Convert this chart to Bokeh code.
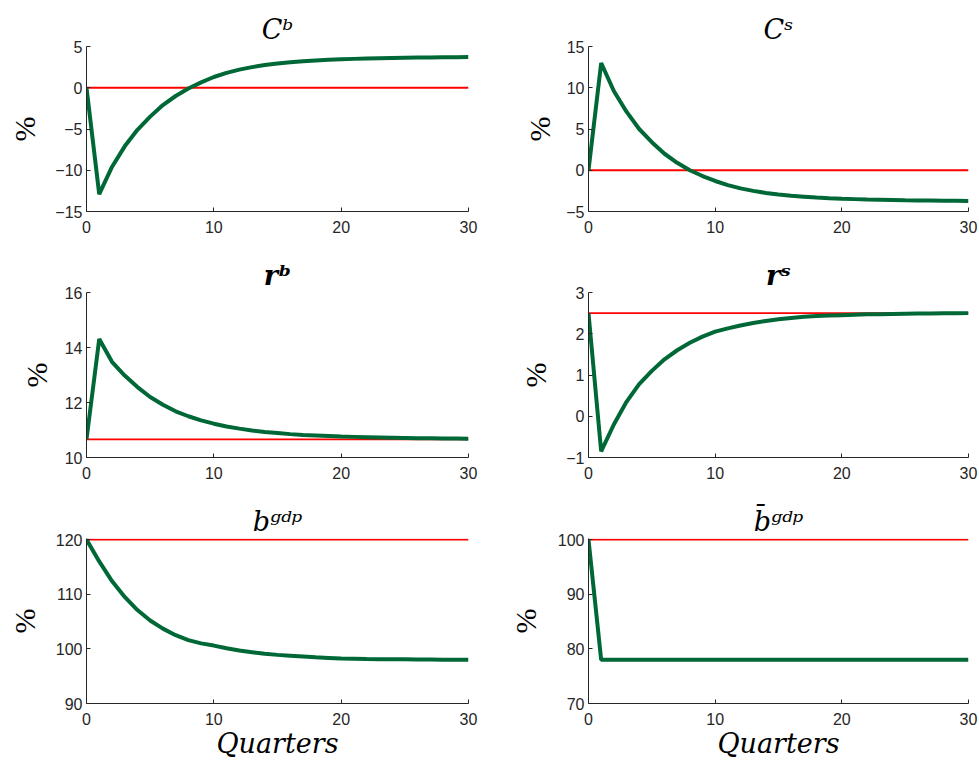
from bokeh.plotting import figure
from bokeh.layouts import column, row
from bokeh.models import FixedTicker, Range1d
from bokeh.embed import file_html
from bokeh.resources import INLINE

# ---------------- data ----------------
quarters = list(range(31))
x_ticks = [0, 10, 20, 30]

Cb = [0, -12.9, -9.6, -7.1, -5.1, -3.5, -2.1, -1.0, -0.1, 0.65, 1.3, 1.8, 2.2, 2.5, 2.75,
      2.95, 3.1, 3.2, 3.3, 3.38, 3.45, 3.5, 3.55, 3.58, 3.61, 3.64, 3.66, 3.68, 3.7, 3.71, 3.72]
Cs = [0, 13.0, 9.6, 7.1, 5.0, 3.4, 2.0, 0.9, 0.0, -0.7, -1.3, -1.8, -2.2, -2.5, -2.75,
      -2.95, -3.1, -3.2, -3.3, -3.38, -3.45, -3.5, -3.55, -3.58, -3.61, -3.64, -3.66, -3.68, -3.7, -3.71, -3.72]
rb = [10.66, 14.31, 13.48, 12.98, 12.56, 12.2, 11.92, 11.68, 11.5, 11.35, 11.23, 11.13, 11.05, 10.98, 10.93,
      10.89, 10.85, 10.82, 10.8, 10.78, 10.76, 10.75, 10.74, 10.73, 10.72, 10.71, 10.7, 10.7, 10.69, 10.69, 10.68]
rs = [2.5, -0.85, -0.2, 0.35, 0.78, 1.1, 1.38, 1.6, 1.78, 1.93, 2.05, 2.13, 2.2, 2.26, 2.31,
      2.35, 2.38, 2.41, 2.43, 2.44, 2.45, 2.46, 2.47, 2.475, 2.48, 2.485, 2.49, 2.49, 2.495, 2.495, 2.5]
bgdp = [120, 116.0, 112.4, 109.5, 107.1, 105.2, 103.7, 102.5, 101.6, 101.0, 100.6, 100.1, 99.7, 99.4, 99.1,
        98.9, 98.75, 98.6, 98.45, 98.35, 98.25, 98.2, 98.15, 98.12, 98.1, 98.08, 98.06, 98.05, 98.03, 98.02, 98.0]
bbar_gdp = [100] + [78] * 30

steady = [0, 0, 10.66, 2.5, 120, 100]
y_ranges = [(-15, 5), (-5, 15), (10, 16), (-1, 3), (90, 120), (70, 100)]
y_ticks = [[-15, -10, -5, 0, 5], [-5, 0, 5, 10, 15], [10, 12, 14, 16],
           [-1, 0, 1, 2, 3], [90, 100, 110, 120], [70, 80, 90, 100]]
titles = ["C\u1d47", "C\u02e2", "r\u1d47", "r\u02e2", "b\u1d4d\u1d48\u1d56", "b\u0304\u1d4d\u1d48\u1d56"]
series = [Cb, Cs, rb, rs, bgdp, bbar_gdp]
y_label = "%"
x_label = "Quarters"

# ---------------- style ----------------
GREEN = "#006837"
RED = "#ff0000"
AX = "#262626"
SERIF = "DejaVu Serif"
SANS = "Liberation Sans"

FRAME_H = 165
# per column: (frame_width, border_left, border_right)
col_geom = [(382, 86, 34), (380, 86, 10)]
# per row: (border_top, border_bottom)
row_geom = [(46, 41), (40, 41), (40, 59)]
pct_standoff = [11, 7, 9, 11, 12, 13]
title_styles = ["italic", "italic", "bold italic", "bold italic", "italic", "italic"]
top_pad = [0, 0, 0, 0, 0.2, 0.2]


def make_panel(i):
    c = i % 2
    r = i // 2
    fw, bl, br = col_geom[c]
    bt, bb = row_geom[r]
    y0, y1 = y_ranges[i]
    p = figure(frame_width=fw, frame_height=FRAME_H,
               min_border_left=bl, min_border_right=br,
               min_border_top=bt, min_border_bottom=bb,
               x_range=Range1d(quarters[0], quarters[-1]),
               y_range=Range1d(y0, y1 + top_pad[i]),
               output_backend="svg", toolbar_location=None, tools="")
    p.outline_line_color = None
    p.xgrid.visible = False
    p.ygrid.visible = False
    p.background_fill_color = "white"
    p.border_fill_color = "white"
    for ax, ticks in ((p.xaxis, x_ticks), (p.yaxis, y_ticks[i])):
        ax.ticker = FixedTicker(ticks=ticks)
        ax.major_tick_in = 4
        ax.major_tick_out = 0
        ax.minor_tick_line_color = None
        ax.axis_line_color = AX
        ax.major_tick_line_color = AX
        ax.major_label_text_color = AX
        ax.major_label_text_font = SANS
        ax.major_label_text_font_size = "16px"
    p.xaxis.major_label_standoff = 9
    p.yaxis.major_label_standoff = 4

    # y label
    p.yaxis.axis_label = y_label
    p.yaxis.axis_label_text_font = "Liberation Serif"
    p.yaxis.axis_label_text_font_size = "30px"
    p.yaxis.axis_label_text_font_style = "normal"
    p.yaxis.axis_label_text_color = "black"
    p.yaxis.axis_label_standoff = pct_standoff[i]

    # x label on bottom row
    if r == 2:
        p.xaxis.axis_label = x_label
        p.xaxis.axis_label_text_font = SERIF
        p.xaxis.axis_label_text_font_size = "27px"
        p.xaxis.axis_label_text_font_style = "italic"
        p.xaxis.axis_label_text_color = "black"
        p.xaxis.axis_label_standoff = 0

    # title
    p.title.text = titles[i]
    p.title.align = "center"
    p.title.text_font = SERIF
    p.title.text_font_size = "27px"
    p.title.text_font_style = title_styles[i]
    p.title.text_color = "black"
    p.title.standoff = 4

    # steady-state reference line and impulse response
    p.line([quarters[0], quarters[-1]], [steady[i], steady[i]], line_color=RED, line_width=1.8)
    p.line(quarters, series[i], line_color=GREEN, line_width=4)
    return p


panels = [make_panel(i) for i in range(6)]
layout = column(row(panels[0], panels[1]), row(panels[2], panels[3]), row(panels[4], panels[5]))

open("out.html", "w").write(file_html(layout, INLINE))
